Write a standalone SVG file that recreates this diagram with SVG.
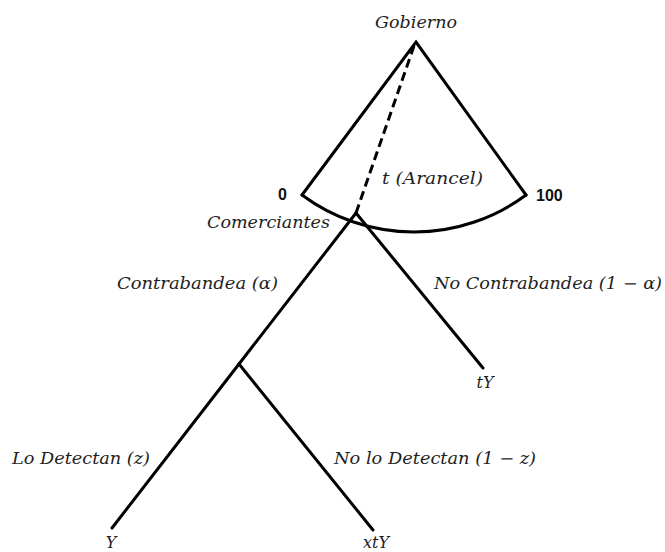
<svg xmlns="http://www.w3.org/2000/svg" width="665" height="552" viewBox="0 0 665 552">
<style>
.e{stroke:#000;stroke-width:3;fill:none;stroke-linecap:round;stroke-linejoin:miter}
.d{stroke:#000;stroke-width:3;fill:none;stroke-dasharray:9 5}
.t{font-family:"DejaVu Serif","Liberation Serif",serif;font-style:italic;font-size:16px;fill:#1e1e1e}
.b{font-family:"Liberation Sans","DejaVu Sans",sans-serif;font-weight:bold;font-size:16px;fill:#111}
</style>
<rect width="665" height="552" fill="#fff"/>
<g id="connectors">
<path class="e" d="M302,195 L416,42 L526,195"/>
<path class="e" d="M302,195 A188,188 0 0 0 526,195"/>
<line class="d" x1="356" y1="213" x2="414" y2="46"/>
<line class="e" x1="356" y1="213" x2="239" y2="364"/>
<line class="e" x1="356" y1="213" x2="483" y2="368"/>
<line class="e" x1="239" y1="364" x2="112" y2="528"/>
<line class="e" x1="239" y1="364" x2="373" y2="530"/>
</g>
<g id="gobierno"><text class="t" x="375" y="28" textLength="82" lengthAdjust="spacingAndGlyphs">Gobierno</text></g>
<g id="arancel">
<text class="b" x="278" y="200">0</text>
<text class="b" x="536" y="201">100</text>
<text class="t" x="382" y="184" textLength="101" lengthAdjust="spacingAndGlyphs">t (Arancel)</text>
</g>
<g id="comerciantes"><text class="t" x="207" y="228" textLength="123" lengthAdjust="spacingAndGlyphs">Comerciantes</text></g>
<g id="labels">
<text class="t" x="117" y="289" textLength="161" lengthAdjust="spacingAndGlyphs">Contrabandea (α)</text>
<text class="t" x="434" y="289" textLength="228" lengthAdjust="spacingAndGlyphs">No Contrabandea (1 − α)</text>
<text class="t" x="12" y="464" textLength="138" lengthAdjust="spacingAndGlyphs">Lo Detectan (z)</text>
<text class="t" x="334" y="464" textLength="202" lengthAdjust="spacingAndGlyphs">No lo Detectan (1 − z)</text>
</g>
<g id="tY"><text class="t" x="485" y="388" text-anchor="middle">tY</text></g>
<g id="Y"><text class="t" x="111" y="548" text-anchor="middle">Y</text></g>
<g id="xtY"><text class="t" x="376" y="548" text-anchor="middle">xtY</text></g>
</svg>
